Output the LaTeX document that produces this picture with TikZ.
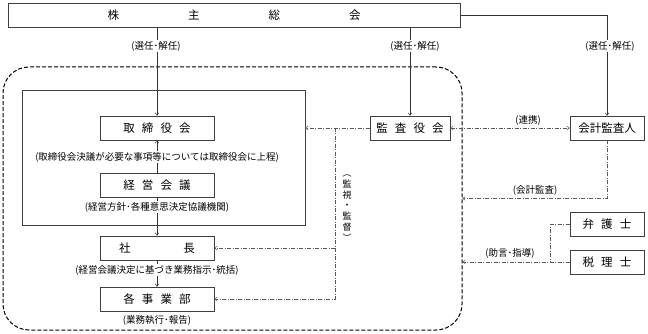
\documentclass[tikz,border=0pt]{standalone}
\usepackage{fontspec}
\setmainfont{Noto Sans CJK JP}
\usetikzlibrary{arrows.meta,positioning}
\newcommand{\kgap}{\hspace{0.62em}}

\begin{document}
\begin{tikzpicture}[
    x=1pt, y=-1pt,
    box/.style={
      draw=black!75,
      line width=0.6pt,
      fill=white,
      minimum height=24pt,
      inner sep=0pt,
      font=\fontsize{11.5}{13}\selectfont,
    },
    note/.style={
      fill=white,
      inner sep=1pt,
      font=\fontsize{9.5}{11}\selectfont,
    },
    pipe/.style={
      -{To[length=3pt,width=4pt]},
      line width=0.5pt,
      draw=black!80,
    },
    link/.style={
      line width=0.5pt,
      draw=black!65,
      dash pattern=on 4pt off 1.5pt on 1pt off 1.5pt,
    },
    tip/.style={-{To[length=3pt,width=4pt]}},
  ]
    \useasboundingbox (0,0) rectangle (648,334);

    % frames
    \node[draw=black, line width=1pt, dash pattern=on 4pt off 2pt,
      rounded corners=26pt, minimum width=459pt, minimum height=263pt,
      inner sep=0pt] (group) at (232.5,198.5) {};
    \node[draw=black!75, line width=0.6pt, minimum width=283pt,
      minimum height=135pt, inner sep=0pt] (mgmt) at (163.5,157.5) {};

    % boxes
    \node[box, minimum width=452pt] (agm) at (234,15.5)
      {株\hspace{6em}主\hspace{6em}総\hspace{6em}会};
    \node[box, minimum width=114pt] (board) at (157,128)
      {取\kgap 締\kgap 役\kgap 会};
    \node[box, minimum width=114pt] (meeting) at (157,185)
      {経\kgap 営\kgap 会\kgap 議};
    \node[box, minimum width=114pt] (president) at (157,248)
      {社\hspace{4.6em}長};
    \node[box, minimum width=114pt] (division) at (157,299)
      {各\kgap 事\kgap 業\kgap 部};
    \node[box, minimum width=80pt] (kansa) at (410,128)
      {監\kgap 査\kgap 役\kgap 会};
    \node[box, minimum width=74pt] (auditor) at (607,128) {会計監査人};
    \node[box, minimum width=74pt] (lawyer) at (607,224)
      {弁\kgap 護\kgap 士};
    \node[box, minimum width=74pt] (taxman) at (607,262)
      {税\kgap 理\kgap 士};

    % election lines
    \draw[pipe] (agm.south -| board.north) -- (board.north);
    \draw[pipe] (agm.south -| kansa.north) -- (kansa.north);
    \draw[pipe] (agm.east) -| (auditor.north);

    % management chain
    \draw[pipe] (meeting.north) -- (board.south);
    \draw[pipe] (meeting.south) -- (president.north);
    \draw[pipe] (president.south) -- (division.north);

    % audit lines
    \coordinate (tap) at (335,128);
    \draw[link, tip] (kansa.west) -- (kansa.west -| mgmt.east);
    \draw[link, tip] (tap) |- (division.east);
    \draw[link, tip] (tap |- president.east) -- (president.east);
    \draw[link, {To[length=3pt,width=4pt]}-{To[length=3pt,width=4pt]}]
      (kansa.east) -- (auditor.west);
    \draw[link, tip] (auditor.south) |- (group.east);
    \draw[link] (lawyer.west) -- ++(-19,0) |- (taxman.west);
    \draw[link, tip] (taxman.west) -- (taxman.west -| group.east);

    % notes
    \node[note] (sel1) at (156,46) {(選任･解任)};
    \node[note] (sel2) at (415,46) {(選任･解任)};
    \node[note] (sel3) at (610,46) {(選任･解任)};
    \node[note] (refer) at (157,157)
      {(取締役会決議が必要な事項等については取締役会に上程)};
    \node[note] (policy) at (157,207) {(経営方針･各種意思決定協議機関)};
    \node[note] (direct) at (157,270) {(経営会議決定に基づき業務指示･統括)};
    \node[note] (exec) at (157,320) {(業務執行･報告)};
    \node[note, fill=none] (coop) at (528,120) {(連携)};
    \node[note, fill=none] (acct) at (535,190) {(会計監査)};
    \node[note, fill=none] (advice) at (510,253) {(助言･指導)};
    \node[note, fill=none, align=center, font=\fontsize{9}{10.8}\selectfont]
      (watch) at (347,208) {︵\\監\\視\\・\\監\\督\\︶};
  \end{tikzpicture}
\end{document}
